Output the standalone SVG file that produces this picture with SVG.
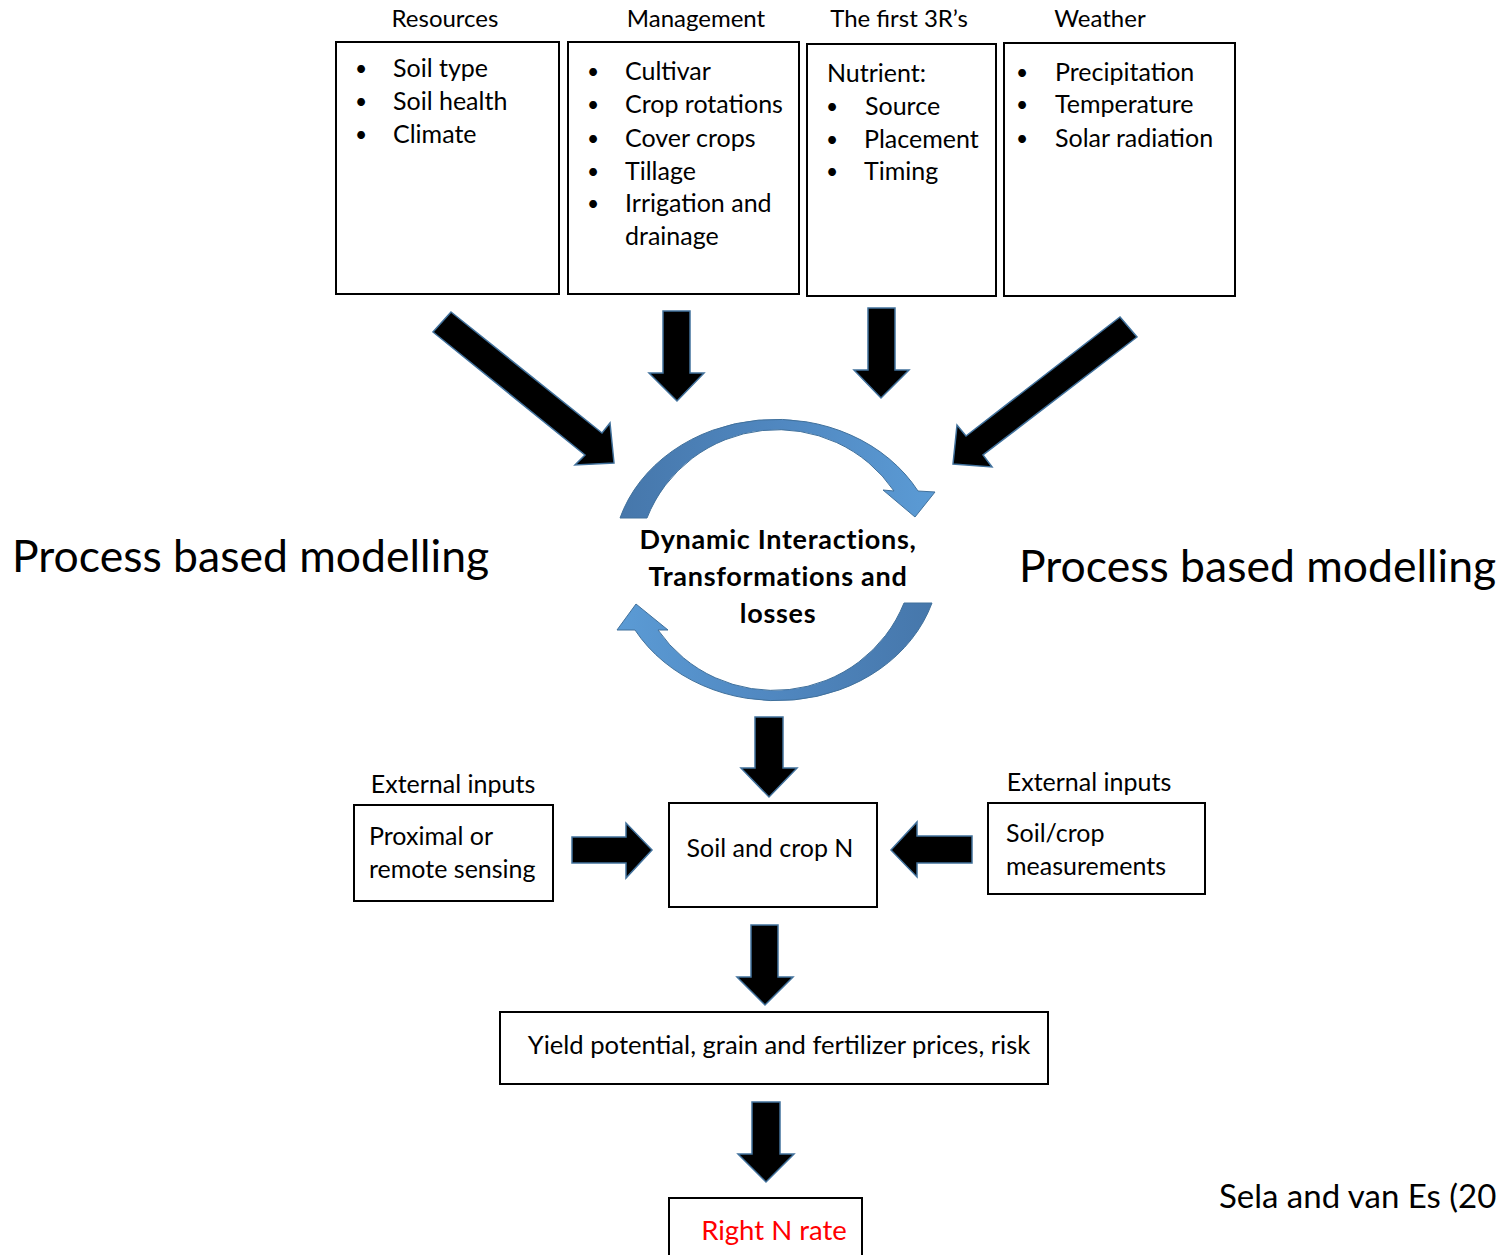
<svg xmlns="http://www.w3.org/2000/svg" width="1502" height="1255" viewBox="0 0 1502 1255">
  <style>
    text { font-family: Lato, "Open Sans", "Liberation Sans", sans-serif; fill: #000; }
    .hdr { font-size: 24px; text-anchor: middle; }
    .item { font-size: 25px; }
    .dot { font-size: 21px; }
    .big { font-size: 44.5px; }
    .mid { font-size: 25px; }
    .centre { font-size: 27px; font-weight: bold; text-anchor: middle; letter-spacing: 0.7px; }
    .box { fill: #fff; stroke: #000; stroke-width: 2; }
    .blk { fill: #000; stroke: #41719c; stroke-width: 1.5; stroke-linejoin: miter; }
    .cyc { stroke: #41719c; stroke-width: 1; }
  </style>
  <defs>
    <linearGradient id="cycTop" x1="620" y1="0" x2="935" y2="0" gradientUnits="userSpaceOnUse">
      <stop offset="0" stop-color="#4677ab"/>
      <stop offset="0.55" stop-color="#5189c2"/>
      <stop offset="1" stop-color="#5b9bd5"/>
    </linearGradient>
    <linearGradient id="cycBot" x1="932" y1="0" x2="617" y2="0" gradientUnits="userSpaceOnUse">
      <stop offset="0" stop-color="#4677ab"/>
      <stop offset="0.55" stop-color="#5189c2"/>
      <stop offset="1" stop-color="#5b9bd5"/>
    </linearGradient>
  </defs>

  <!-- column headings -->
  <text class="hdr" x="445" y="27">Resources</text>
  <text class="hdr" x="696" y="27">Management</text>
  <text class="hdr" x="899" y="27">The first 3R’s</text>
  <text class="hdr" x="1100" y="27">Weather</text>

  <!-- input boxes -->
  <g id="resources">
    <rect class="box" x="336" y="42" width="223" height="252"/>
    <text class="dot" x="355" y="76">•</text><text class="item" x="393" y="77">Soil type</text>
    <text class="dot" x="355" y="109">•</text><text class="item" x="393" y="110">Soil health</text>
    <text class="dot" x="355" y="142">•</text><text class="item" x="393" y="143">Climate</text>
  </g>
  <g id="management">
    <rect class="box" x="568" y="42" width="231" height="252"/>
    <text class="dot" x="587" y="79">•</text><text class="item" x="625" y="80">Cultivar</text>
    <text class="dot" x="587" y="112">•</text><text class="item" x="625" y="113">Crop rotations</text>
    <text class="dot" x="587" y="146">•</text><text class="item" x="625" y="147">Cover crops</text>
    <text class="dot" x="587" y="179">•</text><text class="item" x="625" y="180">Tillage</text>
    <text class="dot" x="587" y="211">•</text><text class="item" x="625" y="212">Irrigation and</text>
    <text class="item" x="625" y="245">drainage</text>
  </g>
  <g id="three-rs">
    <rect class="box" x="807" y="44" width="189" height="252"/>
    <text class="item" x="827" y="82">Nutrient:</text>
    <text class="dot" x="826" y="114">•</text><text class="item" x="865" y="115">Source</text>
    <text class="dot" x="826" y="147">•</text><text class="item" x="864" y="148">Placement</text>
    <text class="dot" x="826" y="179">•</text><text class="item" x="864" y="180">Timing</text>
  </g>
  <g id="weather">
    <rect class="box" x="1004" y="43" width="231" height="253"/>
    <text class="dot" x="1016" y="80">•</text><text class="item" x="1055" y="81">Precipitation</text>
    <text class="dot" x="1016" y="112">•</text><text class="item" x="1055" y="113">Temperature</text>
    <text class="dot" x="1016" y="146">•</text><text class="item" x="1055" y="147">Solar radiation</text>
  </g>

  <!-- side labels -->
  <text class="big" x="12" y="572">Process based modelling</text>
  <text class="big" x="1019" y="582">Process based modelling</text>

  <!-- central cycle -->
  <g id="cycle">
    <path class="cyc" fill="url(#cycTop)" d="M620,518 A163,140 0 0 1 918,491 L935,492 L915,517 L883,490 L894,491 A140,138 0 0 0 647,518 Z"/>
    <path class="cyc" fill="url(#cycBot)" d="M932,603 A163,140 0 0 1 635,630 L617,630 L636,604 L668,630 L658,630 A140,138 0 0 0 904,603 Z"/>
    <text class="centre" x="778" y="549">Dynamic Interactions,</text>
    <text class="centre" x="778" y="586">Transformations and</text>
    <text class="centre" x="778" y="623">losses</text>
  </g>

  <!-- lower nodes -->
  <text class="mid" x="453" y="793" text-anchor="middle">External inputs</text>
  <g id="sensing">
    <rect class="box" x="354" y="805" width="199" height="96"/>
    <text class="mid" x="369" y="845">Proximal or</text>
    <text class="mid" x="369" y="878">remote sensing</text>
  </g>
  <g id="soil-crop-n">
    <rect class="box" x="669" y="803" width="208" height="104"/>
    <text class="mid" x="770" y="857" text-anchor="middle">Soil and crop N</text>
  </g>
  <text class="mid" x="1089" y="791" text-anchor="middle">External inputs</text>
  <g id="measurements">
    <rect class="box" x="988" y="803" width="217" height="91"/>
    <text class="mid" x="1006" y="842">Soil/crop</text>
    <text class="mid" x="1006" y="875">measurements</text>
  </g>
  <g id="yield">
    <rect class="box" x="500" y="1012" width="548" height="72"/>
    <text class="mid" x="779" y="1054" text-anchor="middle" style="font-size:25.6px">Yield potential, grain and fertilizer prices, risk</text>
  </g>
  <g id="right-n-rate">
    <rect class="box" x="669" y="1198" width="193" height="70"/>
    <text x="774" y="1240" text-anchor="middle" style="font-size:27.5px; fill:#ff0000">Right N rate</text>
  </g>

  <text x="1219" y="1208" style="font-size:33px">Sela and van Es (20</text>

  <!-- block arrows -->
  <g id="connectors">
    <polygon class="blk" points="451,312 602,433 610,423 614,463 575,465 585,455 433,332"/>
    <polygon class="blk" points="663,311 690,311 690,373 704,373 677,401 649,373 663,373"/>
    <polygon class="blk" points="868,308 895,308 895,370 909,370 881,398 854,370 868,370"/>
    <polygon class="blk" points="1120,317 1137,337 983,455 992,467 953,464 957,425 966,436"/>
    <polygon class="blk" points="755,717 783,717 783,768 797,768 769,797 741,768 755,768"/>
    <polygon class="blk" points="572,837 626,837 626,823 652,850 626,878 626,863 572,863"/>
    <polygon class="blk" points="972,836 917,836 917,822 891,850 917,877 917,863 972,863"/>
    <polygon class="blk" points="751,925 778,925 778,977 793,977 765,1005 737,977 751,977"/>
    <polygon class="blk" points="752,1102 780,1102 780,1154 794,1154 766,1182 738,1154 752,1154"/>
  </g>
</svg>
